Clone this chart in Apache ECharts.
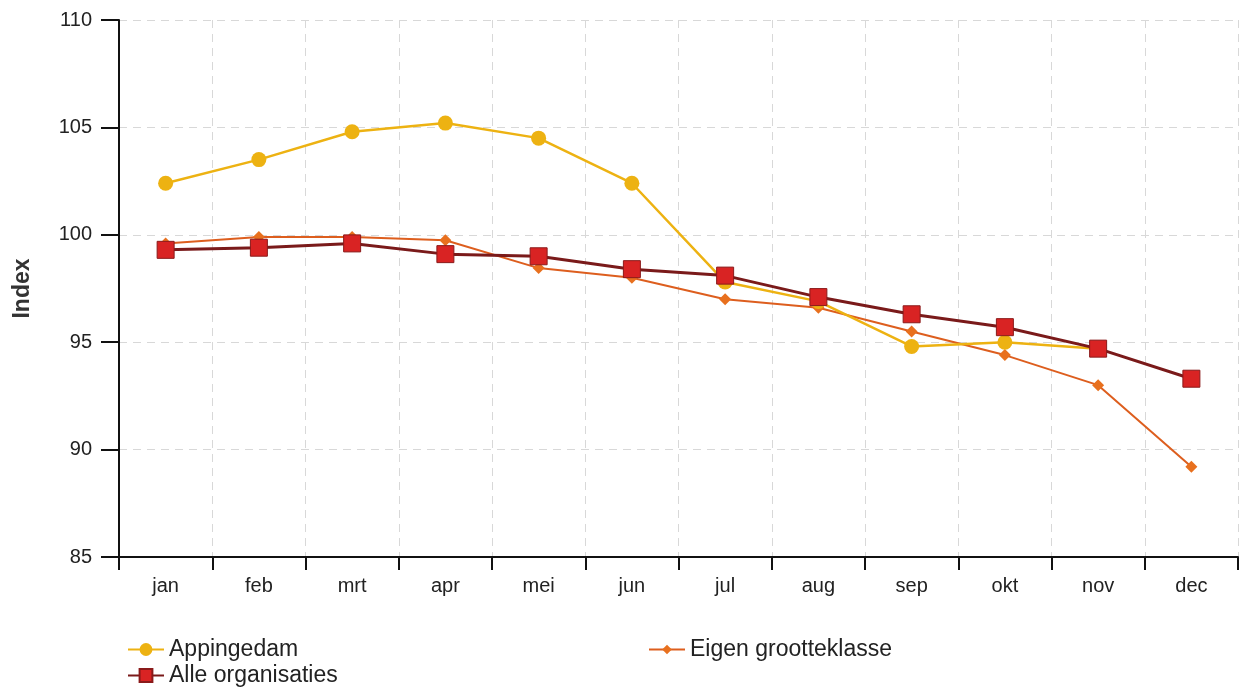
<!DOCTYPE html>
<html>
<head>
<meta charset="utf-8">
<script src="https://cdn.jsdelivr.net/npm/echarts@6/dist/echarts.min.js"></script>
<style>
html,body{margin:0;padding:0;background:#fff;}
#chart{width:1248px;height:691px;}
</style>
</head>
<body>
<div id="chart"></div>
<script>
const months = ['jan','feb','mrt','apr','mei','jun','jul','aug','sep','okt','nov','dec'];
const appingedam = [102.4, 103.5, 104.8, 105.2, 104.5, 102.4, 97.8, 96.9, 94.8, 95.0, 94.7, null];
const alleOrganisaties = [99.3, 99.4, 99.6, 99.1, 99.0, 98.4, 98.1, 97.1, 96.3, 95.7, 94.7, 93.3];
const eigenGrootteklasse = [99.6, 99.9, 99.9, 99.75, 98.45, 98.0, 97.0, 96.6, 95.5, 94.4, 93.0, 89.2];
const yTicks = {min: 85, max: 110, interval: 5};

const chart = echarts.init(document.getElementById('chart'), null, {renderer: 'canvas'});
const font = 'Liberation Sans, Arial, sans-serif';
const legendText = {fontSize: 23, color: '#222', fontFamily: font};
chart.setOption({
  animation: false,
  backgroundColor: '#fff',
  textStyle: {fontFamily: font},
  grid: {left: 119, right: 10, top: 20, bottom: 134},
  legend: [
    {data: ['Appingedam'], left: 127, top: 638, itemWidth: 36, itemHeight: 16, padding: 0, textStyle: legendText},
    {data: ['Alle organisaties'], left: 127, top: 664, itemWidth: 36, itemHeight: 16, padding: 0, textStyle: legendText},
    {data: ['Eigen grootteklasse'], left: 648, top: 638, itemWidth: 36, itemHeight: 12, padding: 0, textStyle: legendText}
  ],
  xAxis: {
    type: 'category', data: months, boundaryGap: true,
    axisLine: {lineStyle: {color: '#111', width: 2}},
    axisTick: {show: true, interval: 0, length: 13, lineStyle: {color: '#111', width: 2}},
    axisLabel: {fontSize: 20, color: '#222', margin: 19, fontFamily: font},
    splitLine: {show: true, interval: 0, lineStyle: {color: '#d8d8d8', type: [8, 6], width: 1}}
  },
  yAxis: {
    type: 'value', min: yTicks.min, max: yTicks.max, interval: yTicks.interval,
    name: 'Index', nameLocation: 'middle', nameGap: 85,
    nameTextStyle: {fontSize: 23, fontWeight: 'bold', color: '#333', fontFamily: font},
    axisLine: {show: true, lineStyle: {color: '#111', width: 2}},
    axisTick: {show: true, inside: false, length: 18, lineStyle: {color: '#111', width: 2}},
    axisLabel: {fontSize: 20, color: '#222', margin: 27, fontFamily: font},
    splitLine: {show: true, lineStyle: {color: '#d8d8d8', type: [8, 6], width: 1}}
  },
  series: [
    {
      name: 'Appingedam', type: 'line', data: appingedam,
      symbol: 'circle', symbolSize: 15, connectNulls: false,
      lineStyle: {color: '#EDB212', width: 2.5},
      itemStyle: {color: '#EDB212'}, z: 3
    },
    {
      name: 'Alle organisaties', type: 'line', data: alleOrganisaties,
      symbol: 'rect', symbolSize: 17,
      lineStyle: {color: '#7A1A1A', width: 3},
      itemStyle: {color: '#D92323', borderColor: '#8A1A1A', borderWidth: 1}, z: 4
    },
    {
      name: 'Eigen grootteklasse', type: 'line', data: eigenGrootteklasse,
      symbol: 'diamond', symbolSize: 12,
      lineStyle: {color: '#DD5E1E', width: 2},
      itemStyle: {color: '#E8701E'}, z: 2
    }
  ]
});
</script>
</body>
</html>
